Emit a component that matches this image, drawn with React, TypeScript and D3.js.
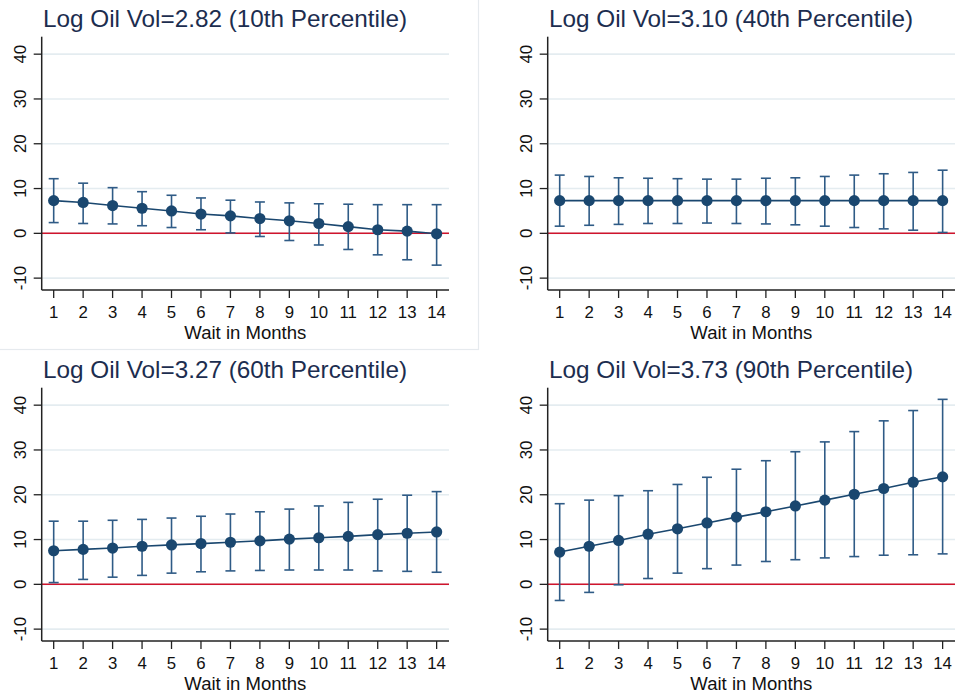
import React from "react";
import * as d3 from "d3";

const months = [1, 2, 3, 4, 5, 6, 7, 8, 9, 10, 11, 12, 13, 14];
const yTicks = [-10, 0, 10, 20, 30, 40];

const titles = [
  "Log Oil Vol=2.82 (10th Percentile)",
  "Log Oil Vol=3.10 (40th Percentile)",
  "Log Oil Vol=3.27 (60th Percentile)",
  "Log Oil Vol=3.73 (90th Percentile)",
];

const est10 = [7.3, 6.9, 6.2, 5.6, 5.0, 4.3, 3.9, 3.3, 2.8, 2.2, 1.5, 0.8, 0.5, -0.1];
const hi10 = [12.2, 11.2, 10.2, 9.3, 8.5, 7.9, 7.4, 7.0, 6.8, 6.6, 6.5, 6.4, 6.4, 6.4];
const lo10 = [2.4, 2.2, 2.1, 1.7, 1.3, 0.8, 0.1, -0.7, -1.6, -2.6, -3.6, -4.8, -5.9, -7.1];

const est40 = [7.3, 7.3, 7.3, 7.3, 7.3, 7.3, 7.3, 7.3, 7.3, 7.3, 7.3, 7.3, 7.3, 7.3];
const hi40 = [13.0, 12.7, 12.4, 12.3, 12.2, 12.1, 12.1, 12.3, 12.4, 12.7, 13.0, 13.3, 13.6, 14.1];
const lo40 = [1.6, 1.8, 2.0, 2.2, 2.2, 2.3, 2.2, 2.1, 1.9, 1.6, 1.3, 1.0, 0.7, 0.2];

const est60 = [7.5, 7.8, 8.1, 8.5, 8.8, 9.1, 9.4, 9.7, 10.1, 10.4, 10.7, 11.1, 11.4, 11.7];
const hi60 = [14.1, 14.1, 14.3, 14.5, 14.8, 15.2, 15.7, 16.2, 16.8, 17.5, 18.3, 19.0, 19.9, 20.7];
const lo60 = [0.4, 1.1, 1.6, 2.0, 2.5, 2.8, 3.0, 3.1, 3.2, 3.2, 3.2, 3.0, 2.9, 2.7];

const est90 = [7.2, 8.5, 9.8, 11.2, 12.4, 13.7, 15.0, 16.2, 17.5, 18.8, 20.1, 21.4, 22.8, 24.0];
const hi90 = [18.0, 18.8, 19.8, 20.9, 22.3, 23.9, 25.7, 27.6, 29.6, 31.8, 34.1, 36.5, 38.8, 41.3];
const lo90 = [-3.6, -1.8, -0.1, 1.3, 2.5, 3.5, 4.3, 5.1, 5.5, 5.9, 6.2, 6.5, 6.6, 6.8];

const panels = [
  { title: titles[0], est: est10, lo: lo10, hi: hi10, dx: 0, dy: 0 },
  { title: titles[1], est: est40, lo: lo40, hi: hi40, dx: 506, dy: 0 },
  { title: titles[2], est: est60, lo: lo60, hi: hi60, dx: 0, dy: 351 },
  { title: titles[3], est: est90, lo: lo90, hi: hi90, dx: 506, dy: 351 },
];

const FONT = "'Liberation Sans', Arial, Helvetica, sans-serif";
const NAVY = "#1a476f";
const BAR = "#2f5b86";
const GRID = "#e4ecf0";
const RED = "#d0142c";

function Panel({ p }: { p: (typeof panels)[number] }) {
  const x = d3.scaleLinear().domain([0.593, 14.42]).range([41.7, 449]);
  const y = d3.scaleLinear().domain([-12.65, 43.9]).range([290, 36.7]);
  const line = d3
    .line<number>()
    .x((_, i) => x(months[i]))
    .y((d) => y(d));
  const left = x.range()[0];
  const right = x.range()[1];
  return (
    <g transform={`translate(${p.dx},${p.dy})`}>
      <text x={43} y={27} fontFamily={FONT} fontSize={24.3} fill="#1c2d4f">
        {p.title}
      </text>
      {yTicks.map((t) => (
        <line key={"g" + t} x1={left} x2={right} y1={y(t)} y2={y(t)} stroke={GRID} strokeWidth={1.6} />
      ))}
      <line x1={left} x2={right} y1={y(0)} y2={y(0)} stroke={RED} strokeWidth={1.5} />
      <line x1={left} x2={left} y1={y.range()[1]} y2={y.range()[0]} stroke="#222" strokeWidth={1.5} />
      <line x1={left} x2={right} y1={y.range()[0]} y2={y.range()[0]} stroke="#222" strokeWidth={1.5} />
      {yTicks.map((t) => (
        <g key={"yt" + t}>
          <line x1={left - 8} x2={left} y1={y(t)} y2={y(t)} stroke="#222" strokeWidth={1.3} />
          <text
            transform={`translate(${left - 16},${y(t)}) rotate(-90)`}
            textAnchor="middle"
            fontFamily={FONT}
            fontSize={16.8}
            fill="#111"
          >
            {t}
          </text>
        </g>
      ))}
      {months.map((m) => (
        <g key={"xt" + m}>
          <line x1={x(m)} x2={x(m)} y1={290} y2={298} stroke="#222" strokeWidth={1.3} />
          <text x={x(m)} y={317.5} textAnchor="middle" fontFamily={FONT} fontSize={16.8} fill="#111">
            {m}
          </text>
        </g>
      ))}
      <text
        x={(left + right) / 2}
        y={339}
        textAnchor="middle"
        fontFamily={FONT}
        fontSize={17.5}
        textLength={122}
        lengthAdjust="spacingAndGlyphs"
        fill="#111"
      >
        Wait in Months
      </text>
      {months.map((m, i) => (
        <g key={"eb" + m} stroke={BAR} strokeWidth={1.6}>
          <line x1={x(m)} x2={x(m)} y1={y(p.lo[i])} y2={y(p.hi[i])} />
          <line x1={x(m) - 5} x2={x(m) + 5} y1={y(p.lo[i])} y2={y(p.lo[i])} />
          <line x1={x(m) - 5} x2={x(m) + 5} y1={y(p.hi[i])} y2={y(p.hi[i])} />
        </g>
      ))}
      <path d={line(p.est) || ""} fill="none" stroke={NAVY} strokeWidth={1.6} />
      {months.map((m, i) => (
        <circle key={"pt" + m} cx={x(m)} cy={y(p.est[i])} r={5.6} fill={NAVY} />
      ))}
    </g>
  );
}

export default function App() {
  return (
    <svg
      width={955}
      height={696}
      viewBox="0 0 955 696"
      style={{ position: "absolute", left: 0, top: 0, background: "#fff" }}
    >
      <rect x={0} y={0} width={955} height={696} fill="#fff" />
      <rect x={-2} y={-2} width={480.5} height={351.5} fill="none" stroke="#e6eaee" strokeWidth={1.2} />
      {panels.map((p, i) => (
        <Panel key={i} p={p} />
      ))}
    </svg>
  );
}
